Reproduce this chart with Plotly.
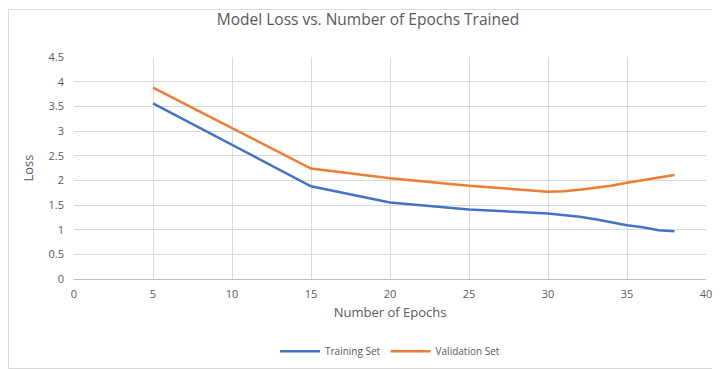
import plotly.graph_objects as go

train_epochs = [5, 10, 15, 20, 25, 30, 31, 32, 33, 34, 35, 36, 37, 38]
train_loss = [3.56, 2.72, 1.88, 1.55, 1.41, 1.33, 1.30, 1.26, 1.21, 1.15, 1.09, 1.05, 0.99, 0.97]

val_epochs = [5, 10, 15, 20, 25, 30, 31, 32, 33, 34, 35, 36, 37, 38]
val_loss = [3.88, 3.06, 2.24, 2.04, 1.89, 1.77, 1.78, 1.81, 1.85, 1.89, 1.95, 2.00, 2.05, 2.11]

y_ticks = [0, 0.5, 1, 1.5, 2, 2.5, 3, 3.5, 4, 4.5]
y_tick_text = ["0", "0.5", "1", "1.5", "2", "2.5", "3", "3.5", "4", "4.5"]
x_ticks = [0, 5, 10, 15, 20, 25, 30, 35, 40]

FONT = "Open Sans"
GRAY = "#595959"

fig = go.Figure()
fig.add_trace(go.Scatter(x=train_epochs, y=train_loss, mode="lines", name="Training Set",
                         line=dict(color="#4472C4", width=2.5)))
fig.add_trace(go.Scatter(x=val_epochs, y=val_loss, mode="lines", name="Validation Set",
                         line=dict(color="#ED7D31", width=2.5)))

fig.update_layout(
    width=720, height=369,
    margin=dict(l=66, r=22, t=49, b=93),
    paper_bgcolor="white", plot_bgcolor="white",
    font=dict(family=FONT, color=GRAY, size=11),
    title=dict(text="Model Loss vs. Number of Epochs Trained", x=0.5, xanchor="center",
               y=0.968, yanchor="middle", font=dict(family=FONT, size=15.5, color=GRAY)),
    showlegend=True,
    legend=dict(orientation="h", x=0.5, xanchor="center", y=-0.325, yanchor="middle",
                font=dict(size=10, color=GRAY), itemwidth=40, tracegroupgap=0),
    xaxis=dict(range=[0, 40], tickvals=x_ticks, showgrid=True, gridcolor="#d9d9d9", gridwidth=1,
               zeroline=False, showline=True, linecolor="#bfbfbf", linewidth=1,
               ticks="", ticklabelstandoff=5, tickfont=dict(size=11, color=GRAY),
               title=dict(text="Number of Epochs", font=dict(size=13, color=GRAY), standoff=7)),
    yaxis=dict(range=[0, 4.5], tickvals=y_ticks, ticktext=y_tick_text, showgrid=True,
               gridcolor="#d9d9d9", gridwidth=1, zeroline=False, showline=False,
               ticks="", ticklabelstandoff=9, tickfont=dict(size=11, color=GRAY),
               title=dict(text="Loss", font=dict(size=13, color=GRAY), standoff=11)),
)

fig.add_shape(type="rect", xref="paper", yref="paper",
              x0=-65.5 / 632, x1=1 + 20.5 / 632, y0=-91.5 / 227, y1=1 + 48.5 / 227,
              line=dict(color="#d9d9d9", width=1), fillcolor="rgba(0,0,0,0)", layer="below")

fig.write_html("out.html")
